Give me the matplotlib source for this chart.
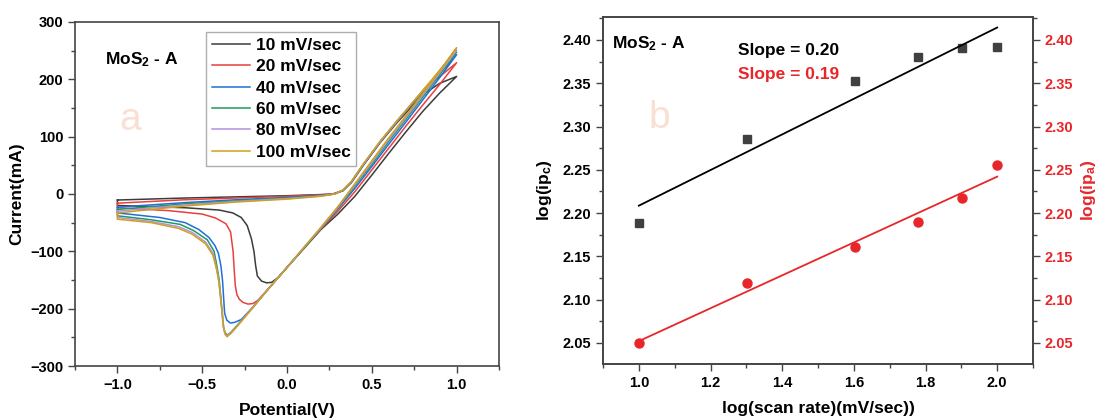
import numpy as np
import matplotlib
matplotlib.use("Agg")
import matplotlib.pyplot as plt
from matplotlib.ticker import MultipleLocator

plt.rcParams["font.family"] = ["Liberation Sans", "DejaVu Sans"]
plt.rcParams["font.weight"] = "bold"
plt.rcParams["mathtext.fontset"] = "custom"
plt.rcParams["mathtext.rm"] = "Liberation Sans:bold"
plt.rcParams["mathtext.bf"] = "Liberation Sans:bold"
plt.rcParams["mathtext.it"] = "Liberation Sans:bold"
plt.rcParams["mathtext.default"] = "bf"

# ---- panel a: cyclic voltammograms (potential V, current mA), one closed loop each ----
labels_cv = ["10 mV/sec", "20 mV/sec", "40 mV/sec", "60 mV/sec", "80 mV/sec", "100 mV/sec"]
colors_cv = ["#3c3c3c", "#e8403c", "#1f6fd8", "#1f9a5c", "#b48fe2", "#cfa11c"]

v_up = [-1.0, -0.6, -0.3, 0.0, 0.2, 0.28, 0.33, 0.38, 0.45, 0.55, 0.65, 0.75, 0.85, 0.93, 1.0]
v_back = [0.9, 0.8, 0.7, 0.6, 0.5, 0.4, 0.3, 0.2, 0.1, 0.0]

v_10 = [-1.0, -0.6, -0.3, 0.0, 0.2, 0.27, 0.33, 0.38, 0.45, 0.55, 0.65, 0.75, 0.82, 0.9, 1.0] + v_back + \
       [-0.05, -0.09, -0.12, -0.15, -0.175, -0.185, -0.195, -0.21, -0.235, -0.27, -0.32, -0.4, -0.6, -0.8, -1.0, -1.0]
i_10 = [-10.5, -7, -5, -3, -1, 0, 6, 20, 50, 90, 125, 157, 177, 193, 205,
        176, 144, 108, 71, 33, -4, -35, -62, -95, -128,
        -145, -154, -155, -152, -143, -125, -100, -78, -55, -41, -33, -28, -24, -22, -20, -10.5]

v_20 = [-1.0, -0.6, -0.3, 0.0, 0.2, 0.27, 0.33, 0.38, 0.45, 0.55, 0.65, 0.75, 0.85, 0.93, 1.0] + v_back + \
       [-0.1, -0.17, -0.2, -0.23, -0.26, -0.28, -0.295, -0.305, -0.312, -0.318, -0.333, -0.36, -0.42, -0.5, -0.7, -1.0, -1.0]
i_20 = [-16, -10, -7, -4, -1.5, 0, 6, 21, 51, 91, 127, 160, 192, 212, 229,
        191, 155, 118, 80, 42, 4, -30, -61, -94, -128,
        -162, -185, -191, -192, -189, -184, -176, -160, -130, -100, -66, -52, -42, -35, -29, -24, -16]

v_40 = v_up + v_back + \
       [-0.1, -0.2, -0.27, -0.31, -0.335, -0.355, -0.368, -0.374, -0.38, -0.39, -0.405, -0.425, -0.46, -0.52, -0.6, -0.75, -1.0, -1.0]
i_40 = [-23, -15, -10, -6, -2.5, 0, 6, 21, 51, 91, 127, 161, 194, 220, 243,
        203, 164, 125, 87, 48, 10, -26, -60, -94, -128,
        -162, -197, -219, -224, -225, -220, -208, -180, -152, -125, -103, -90, -76, -62, -50, -41, -33, -23]

v_60 = v_up + v_back + \
       [-0.1, -0.2, -0.3, -0.33, -0.352, -0.365, -0.374, -0.39, -0.4, -0.412, -0.43, -0.47, -0.55, -0.63, -0.8, -1.0, -1.0]
i_60 = [-27, -17, -12, -7, -3, 0, 6, 22, 52, 92, 128, 162, 196, 223, 248,
        208, 169, 130, 92, 52, 14, -24, -60, -94, -128,
        -162, -197, -231, -241, -246, -242, -233, -181, -150, -128, -100, -80, -64, -53, -45, -38, -27]

v_80 = v_up + v_back + \
       [-0.1, -0.2, -0.3, -0.33, -0.355, -0.367, -0.376, -0.392, -0.403, -0.415, -0.435, -0.48, -0.56, -0.64, -0.8, -1.0, -1.0]
i_80 = [-30, -19, -13, -8, -3.5, 0, 7, 22, 52, 92, 128, 163, 197, 225, 251,
        211, 172, 133, 95, 55, 16, -23, -59, -93, -128,
        -162, -197, -232, -242, -247, -243, -231, -181, -150, -130, -104, -84, -67, -57, -48, -41, -30]

v_100 = v_up + v_back + \
        [-0.1, -0.2, -0.3, -0.33, -0.353, -0.365, -0.374, -0.39, -0.402, -0.415, -0.437, -0.48, -0.56, -0.64, -0.8, -1.0, -1.0]
i_100 = [-33, -21, -14, -9, -4, 0, 7, 22, 52, 92, 128, 163, 198, 227, 255,
         214, 175, 136, 98, 58, 18, -22, -58, -93, -128,
         -162, -198, -233, -243, -249, -245, -232, -185, -153, -132, -107, -87, -70, -60, -50, -44, -33]

# ---- panel b: peak currents vs scan rate ----
scan_rate = [10, 20, 40, 60, 80, 100]
log_ipc = [2.188, 2.285, 2.353, 2.380, 2.391, 2.392]
log_ipa = [2.050, 2.119, 2.161, 2.190, 2.217, 2.256]
slope_texts = ["Slope = 0.20", "Slope = 0.19"]

RED = "#e8262a"
SPINE = "#444444"

fig = plt.figure(figsize=(10.97, 4.18), dpi=100)
ax1 = fig.add_axes([0.0684, 0.1244, 0.3865, 0.823])
ax2 = fig.add_axes([0.5497, 0.1292, 0.392, 0.830])


def style_axes(ax):
    for s in ax.spines.values():
        s.set_color(SPINE)
        s.set_linewidth(1.2)
    ax.tick_params(which="both", direction="out", color=SPINE, width=1.0, labelsize=10.5)
    ax.tick_params(which="major", length=5)
    ax.tick_params(which="minor", length=3)


# panel a
curves = [(v_10, i_10), (v_20, i_20), (v_40, i_40), (v_60, i_60), (v_80, i_80), (v_100, i_100)]
for (v, i), lab, c in zip(curves, labels_cv, colors_cv):
    ax1.plot(v, i, color=c, lw=1.1, label=lab, solid_joinstyle="round")

ax1.set_xlim(-1.25, 1.25)
ax1.set_ylim(-300, 300)
ax1.xaxis.set_major_locator(MultipleLocator(0.5))
ax1.xaxis.set_minor_locator(MultipleLocator(0.25))
ax1.yaxis.set_major_locator(MultipleLocator(100))
ax1.yaxis.set_minor_locator(MultipleLocator(50))
style_axes(ax1)
ax1.set_xlabel("Potential(V)", fontsize=12.5, fontweight="bold", labelpad=8)
ax1.set_ylabel("Current(mA)", fontsize=12.5, fontweight="bold", labelpad=4)
ax1.text(0.071, 0.89, r"MoS$_2$ - A", transform=ax1.transAxes, fontsize=12.5,
         fontweight="bold", va="center", ha="left")
ax1.text(0.13, 0.715, "a", transform=ax1.transAxes, fontsize=28, color="#f9e0d2",
         fontweight="normal", ha="center", va="center")
leg = ax1.legend(loc="upper left", bbox_to_anchor=(0.309, 0.972), borderaxespad=0,
                 fontsize=12.5, handlelength=2.2, handletextpad=0.3, labelspacing=0.36,
                 borderpad=0.35, fancybox=False, frameon=True)
leg.get_frame().set_edgecolor("#999999")
leg.get_frame().set_linewidth(1.0)
for t in leg.get_texts():
    t.set_fontweight("bold")

# panel b
x_log = np.log10(scan_rate)
ax2.plot(x_log, log_ipc, "s", color="#404040", ms=6)
kc = np.polyfit(x_log, log_ipc, 1)
ax2.plot(x_log[[0, -1]], np.polyval(kc, x_log[[0, -1]]), color="black", lw=1.3)

ax2r = ax2.twinx()
ax2r.plot(x_log, log_ipa, "o", color=RED, ms=6.5)
ka = np.polyfit(x_log, log_ipa, 1)
ax2r.plot(x_log[[0, -1]], np.polyval(ka, x_log[[0, -1]]), color=RED, lw=1.3)

for ax in (ax2, ax2r):
    ax.set_xlim(0.9, 2.1)
    ax.set_ylim(2.0255, 2.4265)
    ax.yaxis.set_major_locator(MultipleLocator(0.05))
    ax.yaxis.set_minor_locator(MultipleLocator(0.025))
    style_axes(ax)
ax2.xaxis.set_major_locator(MultipleLocator(0.2))
ax2.xaxis.set_minor_locator(MultipleLocator(0.1))
ax2.yaxis.set_major_formatter(plt.FormatStrFormatter("%.2f"))
ax2r.yaxis.set_major_formatter(plt.FormatStrFormatter("%.2f"))
ax2r.tick_params(axis="y", labelcolor=RED)

ax2.set_xlabel("log(scan rate)(mV/sec))", fontsize=12.5, fontweight="bold", labelpad=8)
ax2.set_ylabel(r"log(ip$_c$)", fontsize=12.5, fontweight="bold", labelpad=6)
ax2r.set_ylabel(r"log(ip$_a$)", fontsize=12.5, fontweight="bold", color=RED, labelpad=4)

ax2.text(0.022, 0.922, r"MoS$_2$ - A", transform=ax2.transAxes, fontsize=12.5,
         fontweight="bold", va="center", ha="left")
ax2.text(0.314, 0.905, slope_texts[0], transform=ax2.transAxes, fontsize=12.5,
         fontweight="bold", va="center", ha="left", color="black")
ax2.text(0.314, 0.833, slope_texts[1], transform=ax2.transAxes, fontsize=12.5,
         fontweight="bold", va="center", ha="left", color=RED)
ax2.text(0.13, 0.71, "b", transform=ax2.transAxes, fontsize=28, color="#f9e0d2",
         fontweight="normal", ha="center", va="center")

fig.savefig("out.png", dpi=100)
